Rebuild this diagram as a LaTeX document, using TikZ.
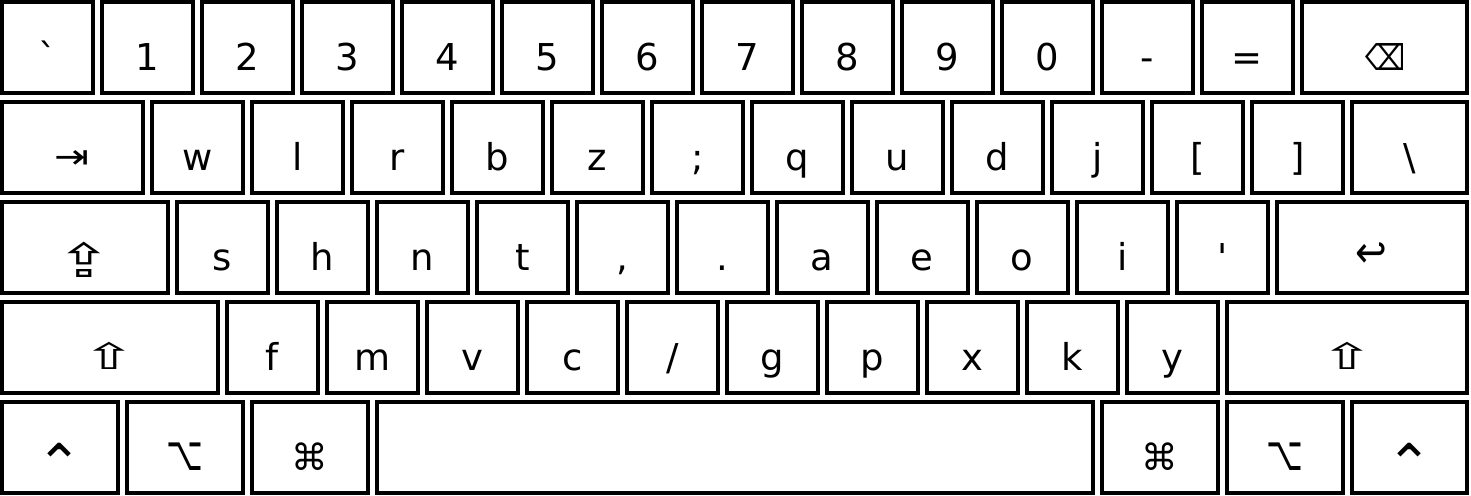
\documentclass[tikz,border=0pt]{standalone}
\usepackage{fontspec}
\usepackage{graphicx}
\newfontfamily\kf{DejaVu Sans}
\tikzset{
  keybox/.style={draw=black, line width=4pt, fill=white, inner sep=0pt, rectangle},
  keylab/.style={font=\kf\fontsize{37}{40}\selectfont, text=black, inner sep=0pt, anchor=base},
}
% \kkey{name}{left}{right}{row}{label}
\newcommand{\kkey}[5]{%
  \pgfmathsetmacro{\kcx}{(#2+#3)/2}%
  \pgfmathsetmacro{\kw}{#3-#2-4}%
  \pgfmathsetmacro{\kcy}{100*#4+47.25}%
  \pgfmathsetmacro{\kby}{100*#4+70.5}%
  \node[keybox, minimum width=\kw pt, minimum height=90.5pt] (#1) at (\kcx,\kcy) {};
  \node[keylab] (#1-l) at (\kcx,\kby) {#5};
}
% \skey{name}{left}{right}{row}{symbol label}{baseline y within row}{label x offset}
\newcommand{\skey}[7]{%
  \pgfmathsetmacro{\kcx}{(#2+#3)/2}%
  \pgfmathsetmacro{\klx}{(#2+#3)/2+#7}%
  \pgfmathsetmacro{\kw}{#3-#2-4}%
  \pgfmathsetmacro{\kcy}{100*#4+47.25}%
  \pgfmathsetmacro{\ksy}{100*#4+#6}%
  \node[keybox, minimum width=\kw pt, minimum height=90.5pt] (#1) at (\kcx,\kcy) {};
  \node[keylab] (#1-l) at (\klx,\ksy) {#5};
}
\newcommand{\symg}[4]{{\fontsize{#1}{#1}\selectfont\scalebox{#2}[#3]{#4}}}
\begin{document}
\begin{tikzpicture}[x=1pt,y=-1pt]
\useasboundingbox[fill=white] (0,0) rectangle (1471,495);
% row 0
\kkey{grave}{0}{94.5}{0}{`}
\kkey{one}{100}{194.5}{0}{1}
\kkey{two}{200}{294.5}{0}{2}
\kkey{three}{300}{394.5}{0}{3}
\kkey{four}{400}{494.5}{0}{4}
\kkey{five}{500}{594.5}{0}{5}
\kkey{six}{600}{694.5}{0}{6}
\kkey{seven}{700}{794.5}{0}{7}
\kkey{eight}{800}{894.5}{0}{8}
\kkey{nine}{900}{994.5}{0}{9}
\kkey{zero}{1000}{1094.5}{0}{0}
\kkey{minus}{1100}{1194.5}{0}{-}
\kkey{equal}{1200}{1294.5}{0}{=}
\skey{bksp}{1300}{1469}{0}{\symg{35.5}{0.8}{1}{⌫}}{70.5}{1}
% row 1
\skey{tab}{0}{144.5}{1}{\symg{37}{1.13}{0.92}{⇥}}{68.2}{0}
\kkey{kw}{150}{244.5}{1}{w}
\kkey{kl}{250}{344.5}{1}{l}
\kkey{kr}{350}{444.5}{1}{r}
\kkey{kb}{450}{544.5}{1}{b}
\kkey{kz}{550}{644.5}{1}{z}
\kkey{semi}{650}{744.5}{1}{;}
\kkey{kq}{750}{844.5}{1}{q}
\kkey{ku}{850}{944.5}{1}{u}
\kkey{kd}{950}{1044.5}{1}{d}
\kkey{kj}{1050}{1144.5}{1}{j}
\kkey{lbrack}{1150}{1244.5}{1}{[}
\kkey{rbrack}{1250}{1344.5}{1}{]}
\kkey{bslash}{1350}{1469}{1}{\textbackslash}
% row 2
\skey{caps}{0}{169.5}{2}{\symg{47}{1.41}{1}{⇪}}{77}{0}
\kkey{ks}{175}{269.5}{2}{s}
\kkey{kh}{275}{369.5}{2}{h}
\kkey{kn}{375}{469.5}{2}{n}
\kkey{kt}{475}{569.5}{2}{t}
\kkey{comma}{575}{669.5}{2}{,}
\kkey{period}{675}{769.5}{2}{.}
\kkey{ka}{775}{869.5}{2}{a}
\kkey{ke}{875}{969.5}{2}{e}
\kkey{ko}{975}{1069.5}{2}{o}
\kkey{ki}{1075}{1169.5}{2}{i}
\kkey{quote}{1175}{1269.5}{2}{'}
\skey{return}{1275}{1469}{2}{\symg{43.75}{0.865}{1}{↩}}{67.4}{-1}
% row 3
\skey{lshift}{0}{219.5}{3}{\symg{36.1}{1.78}{1}{⇧}}{69.5}{0}
\kkey{kf}{225}{319.5}{3}{f}
\kkey{km}{325}{419.5}{3}{m}
\kkey{kv}{425}{519.5}{3}{v}
\kkey{kc}{525}{619.5}{3}{c}
\kkey{slash}{625}{719.5}{3}{/}
\kkey{kg}{725}{819.5}{3}{g}
\kkey{kp}{825}{919.5}{3}{p}
\kkey{kx}{925}{1019.5}{3}{x}
\kkey{kk}{1025}{1119.5}{3}{k}
\kkey{ky}{1125}{1219.5}{3}{y}
\skey{rshift}{1225}{1469}{3}{\symg{36.1}{1.78}{1}{⇧}}{69.5}{0}
% row 4
\skey{lctrl}{0}{119.5}{4}{\symg{55}{1}{1}{⌃}}{83.5}{0}
\skey{lopt}{125}{244.5}{4}{\symg{48}{0.667}{1}{⌥}}{70.5}{0}
\skey{lcmd}{250}{369.5}{4}{\symg{36.5}{1}{1}{⌘}}{70.5}{0}
\kkey{space}{375}{1094.5}{4}{}
\skey{rcmd}{1100}{1219.5}{4}{\symg{36.5}{1}{1}{⌘}}{70.5}{0}
\skey{ropt}{1225}{1344.5}{4}{\symg{48}{0.667}{1}{⌥}}{70.5}{0}
\skey{rctrl}{1350}{1469}{4}{\symg{55}{1}{1}{⌃}}{83.5}{0}
\end{tikzpicture}
\end{document}
